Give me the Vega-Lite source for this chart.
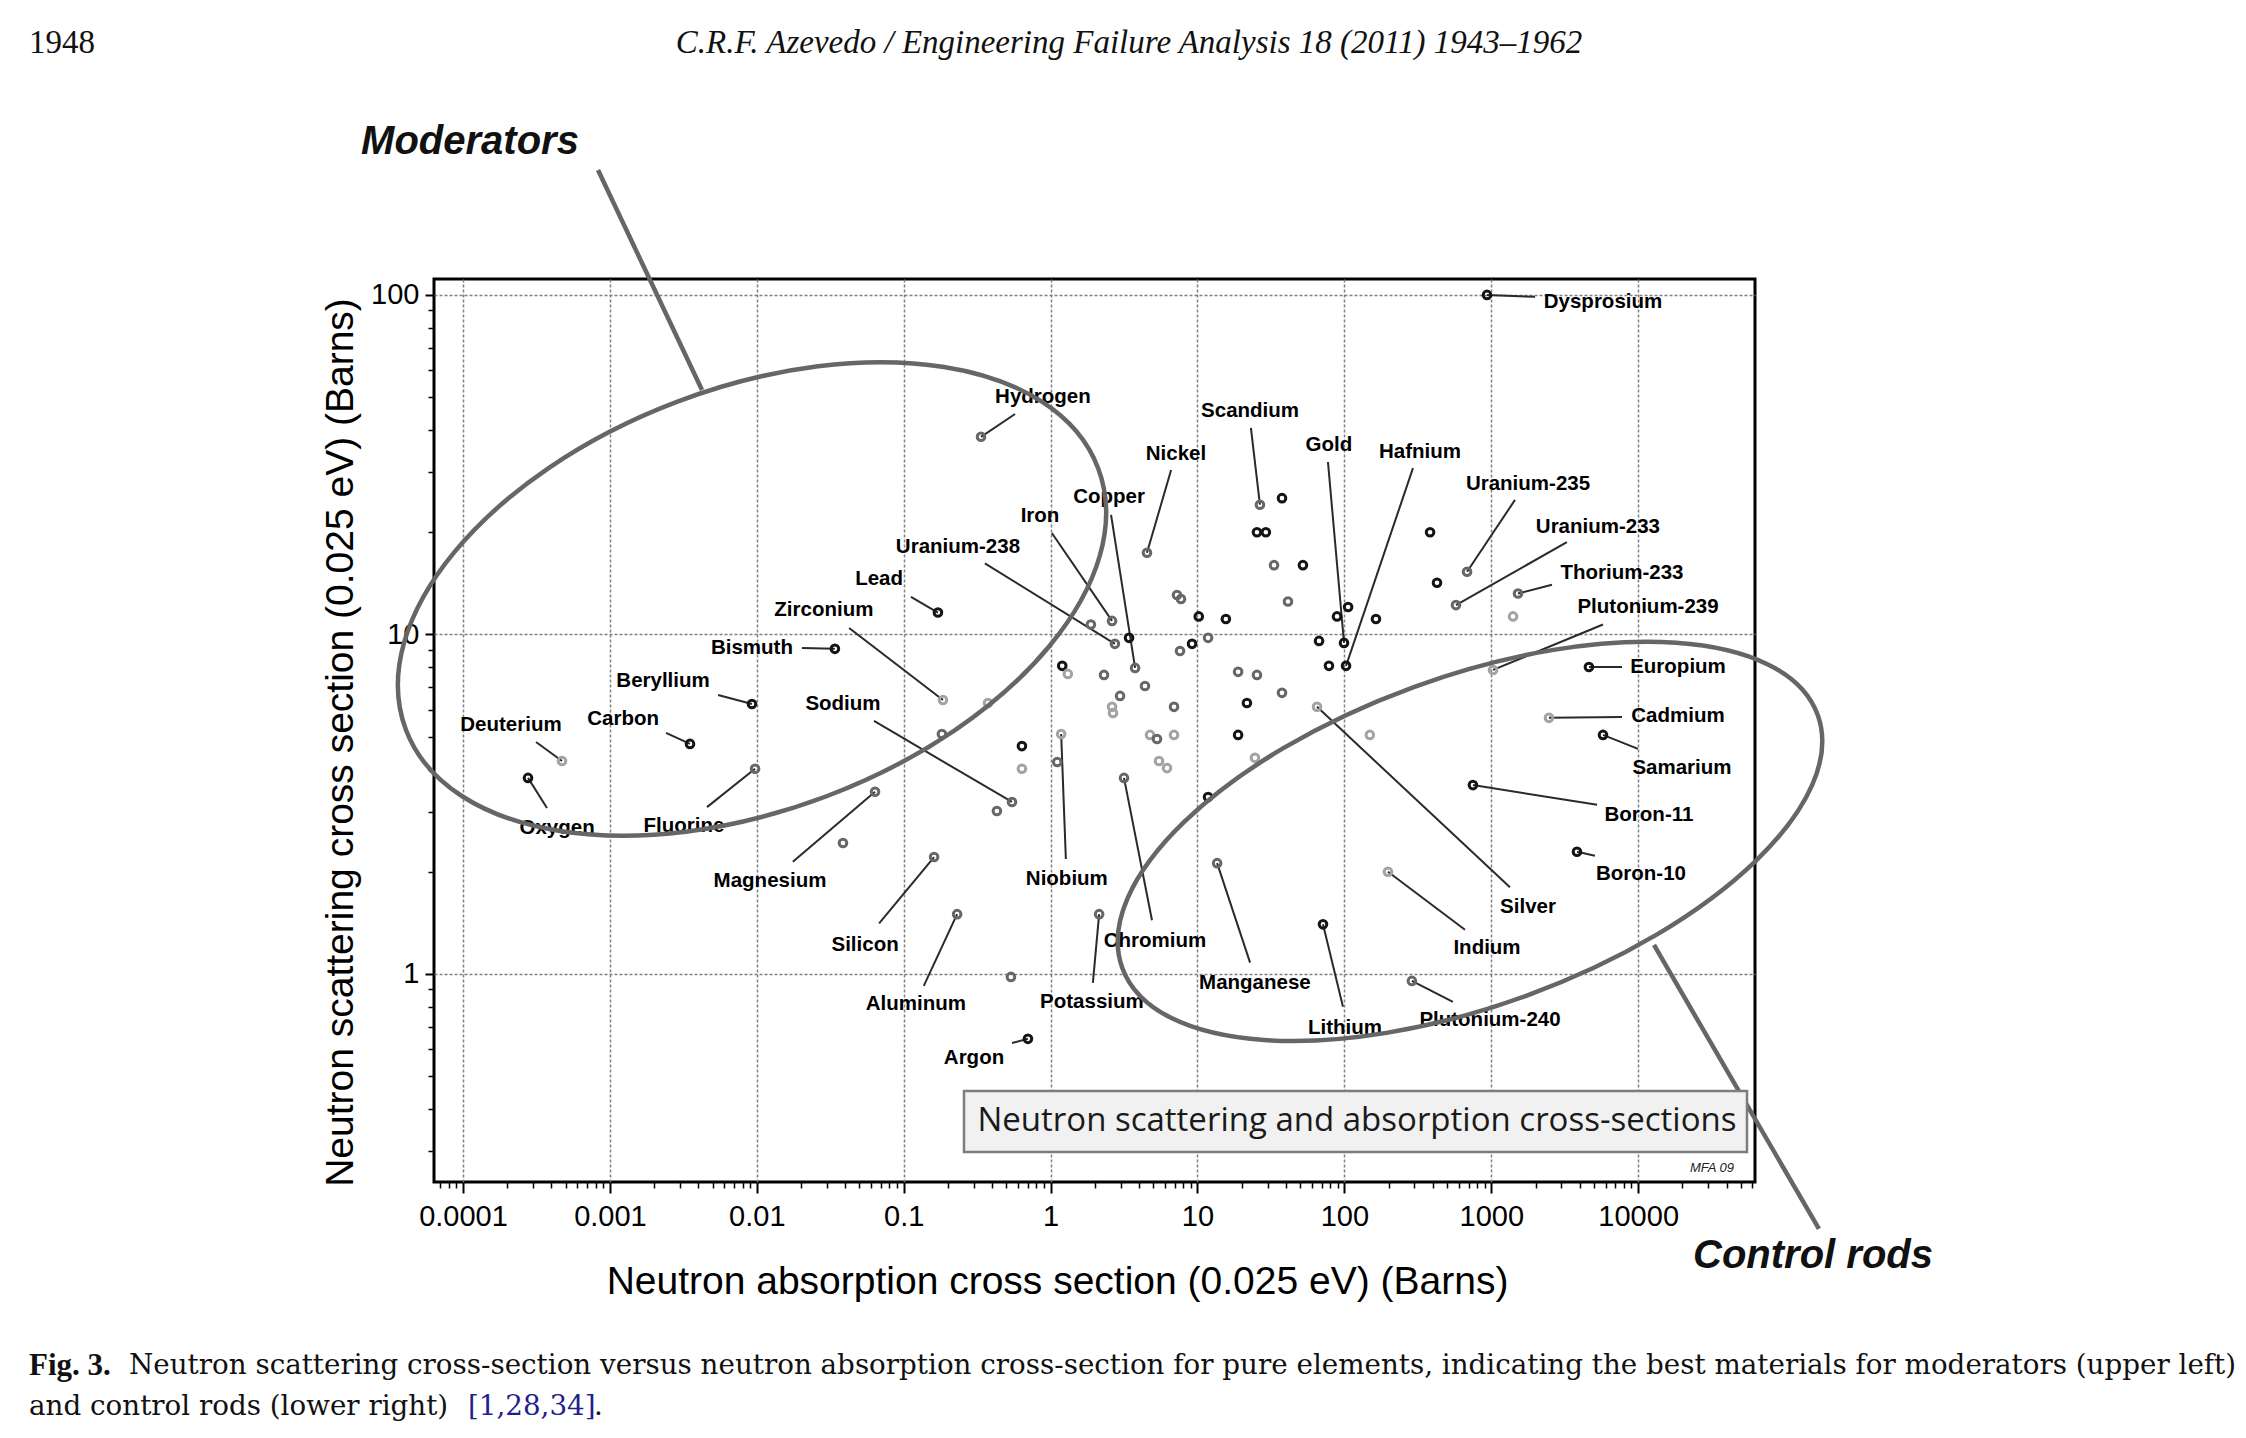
{
  "$schema": "https://vega.github.io/schema/vega-lite/v6.json",
  "width": 1321,
  "height": 903,
  "autosize": {"type": "none"},
  "padding": {"left": 434, "top": 279, "right": 491, "bottom": 256},
  "background": "white",
  "config": {"view": {"stroke": "black", "strokeWidth": 3}, "font": "Liberation Sans"},
  "resolve": {"axis": {"x": "independent", "y": "independent"}},
  "datasets": {
    "elements": [
      {"name":"Hydrogen","absorption":0.336,"scattering":38.2,"class":"mid","label_x":0.887,"label_y":50.1,"line_x":0.573,"line_y":44.6},
      {"name":"Scandium","absorption":26.6,"scattering":24.1,"class":"mid","label_x":22.8,"label_y":45.5,"line_x":23.1,"line_y":40.6},
      {"name":"Nickel","absorption":4.53,"scattering":17.4,"class":"mid","label_x":7.14,"label_y":34.0,"line_x":6.61,"line_y":30.5},
      {"name":"Copper","absorption":3.76,"scattering":7.97,"class":"mid","label_x":2.50,"label_y":25.4,"line_x":2.58,"line_y":22.5},
      {"name":"Iron","absorption":2.62,"scattering":10.96,"class":"mid","label_x":0.847,"label_y":22.3,"line_x":1.02,"line_y":19.9},
      {"name":"Uranium-238","absorption":2.74,"scattering":9.38,"class":"mid","label_x":0.234,"label_y":18.1,"line_x":0.357,"line_y":16.2},
      {"name":"Lead","absorption":0.171,"scattering":11.6,"class":"dark","label_x":0.068,"label_y":14.6,"line_x":0.112,"line_y":12.9},
      {"name":"Zirconium","absorption":0.185,"scattering":6.41,"class":"light","label_x":0.0286,"label_y":11.8,"line_x":0.0425,"line_y":10.45},
      {"name":"Bismuth","absorption":0.034,"scattering":9.07,"class":"dark","label_x":0.00927,"label_y":9.12,"line_x":0.0203,"line_y":9.12},
      {"name":"Beryllium","absorption":0.00927,"scattering":6.24,"class":"dark","label_x":0.0023,"label_y":7.30,"line_x":0.00545,"line_y":6.63},
      {"name":"Deuterium","absorption":0.000472,"scattering":4.24,"class":"light","label_x":0.000212,"label_y":5.41,"line_x":0.000314,"line_y":4.82},
      {"name":"Carbon","absorption":0.00351,"scattering":4.76,"class":"dark","label_x":0.00123,"label_y":5.64,"line_x":0.00241,"line_y":5.13},
      {"name":"Oxygen","absorption":0.000277,"scattering":3.78,"class":"dark","label_x":0.000437,"label_y":2.69,"line_x":0.000373,"line_y":3.08},
      {"name":"Fluorine","absorption":0.00973,"scattering":4.02,"class":"mid","label_x":0.00319,"label_y":2.73,"line_x":0.00458,"line_y":3.10},
      {"name":"Magnesium","absorption":0.0638,"scattering":3.44,"class":"mid","label_x":0.0123,"label_y":1.88,"line_x":0.0176,"line_y":2.14},
      {"name":"Sodium","absorption":0.546,"scattering":3.21,"class":"mid","label_x":0.0386,"label_y":6.24,"line_x":0.0628,"line_y":5.56},
      {"name":"Silicon","absorption":0.161,"scattering":2.21,"class":"mid","label_x":0.0546,"label_y":1.22,"line_x":0.068,"line_y":1.41},
      {"name":"Aluminum","absorption":0.231,"scattering":1.50,"class":"mid","label_x":0.121,"label_y":0.816,"line_x":0.137,"line_y":0.922},
      {"name":"Argon","absorption":0.701,"scattering":0.644,"class":"dark","label_x":0.301,"label_y":0.566,"line_x":0.546,"line_y":0.626},
      {"name":"Niobium","absorption":1.18,"scattering":5.09,"class":"light","label_x":1.29,"label_y":1.90,"line_x":1.27,"line_y":2.18},
      {"name":"Potassium","absorption":2.14,"scattering":1.50,"class":"mid","label_x":1.91,"label_y":0.827,"line_x":1.94,"line_y":0.941},
      {"name":"Chromium","absorption":3.16,"scattering":3.78,"class":"mid","label_x":5.14,"label_y":1.25,"line_x":4.90,"line_y":1.44},
      {"name":"Manganese","absorption":13.6,"scattering":2.12,"class":"mid","label_x":24.6,"label_y":0.941,"line_x":22.8,"line_y":1.08},
      {"name":"Lithium","absorption":71.5,"scattering":1.40,"class":"dark","label_x":101,"label_y":0.693,"line_x":97.8,"line_y":0.80},
      {"name":"Plutonium-240","absorption":288,"scattering":0.954,"class":"mid","label_x":980,"label_y":0.732,"line_x":548,"line_y":0.827},
      {"name":"Indium","absorption":198,"scattering":2.0,"class":"light","label_x":935,"label_y":1.19,"line_x":662,"line_y":1.35},
      {"name":"Silver","absorption":65.1,"scattering":6.12,"class":"light","label_x":1778,"label_y":1.58,"line_x":1340,"line_y":1.80},
      {"name":"Boron-10","absorption":3830,"scattering":2.29,"class":"dark","label_x":10450,"label_y":1.97,"line_x":5080,"line_y":2.23},
      {"name":"Boron-11","absorption":750,"scattering":3.60,"class":"dark","label_x":11840,"label_y":2.94,"line_x":5250,"line_y":3.15},
      {"name":"Samarium","absorption":5760,"scattering":5.06,"class":"dark","label_x":19860,"label_y":4.04,"line_x":9970,"line_y":4.60},
      {"name":"Cadmium","absorption":2470,"scattering":5.68,"class":"light","label_x":18660,"label_y":5.75,"line_x":7760,"line_y":5.71},
      {"name":"Europium","absorption":4620,"scattering":8.02,"class":"dark","label_x":18660,"label_y":8.02,"line_x":7760,"line_y":8.02},
      {"name":"Plutonium-239","absorption":1028,"scattering":7.86,"class":"light","label_x":11670,"label_y":12.05,"line_x":5760,"line_y":10.7},
      {"name":"Thorium-233","absorption":1520,"scattering":13.2,"class":"mid","label_x":7760,"label_y":15.2,"line_x":2590,"line_y":14.0},
      {"name":"Uranium-233","absorption":575,"scattering":12.2,"class":"mid","label_x":5320,"label_y":20.7,"line_x":3270,"line_y":18.7},
      {"name":"Uranium-235","absorption":684,"scattering":15.3,"class":"mid","label_x":1778,"label_y":27.8,"line_x":1450,"line_y":24.9},
      {"name":"Hafnium","absorption":102.6,"scattering":8.08,"class":"dark","label_x":327,"label_y":34.5,"line_x":293,"line_y":30.9},
      {"name":"Gold","absorption":99.4,"scattering":9.44,"class":"dark","label_x":78.5,"label_y":36.2,"line_x":77.3,"line_y":32.2},
      {"name":"Dysprosium","absorption":935,"scattering":100,"class":"dark","label_x":5760,"label_y":95.4,"line_x":1985,"line_y":98.7},
      {"name":"","absorption":37.6,"scattering":25.2,"class":"dark"},
      {"name":"","absorption":25.4,"scattering":20.0,"class":"dark"},
      {"name":"","absorption":29.2,"scattering":20.0,"class":"dark"},
      {"name":"","absorption":33.2,"scattering":16.0,"class":"mid"},
      {"name":"","absorption":52.2,"scattering":16.0,"class":"dark"},
      {"name":"","absorption":41.3,"scattering":12.5,"class":"mid"},
      {"name":"","absorption":106,"scattering":12.05,"class":"dark"},
      {"name":"","absorption":89.1,"scattering":11.3,"class":"dark"},
      {"name":"","absorption":67.2,"scattering":9.57,"class":"dark"},
      {"name":"","absorption":78.5,"scattering":8.08,"class":"dark"},
      {"name":"","absorption":164,"scattering":11.1,"class":"dark"},
      {"name":"","absorption":383,"scattering":20.0,"class":"dark"},
      {"name":"","absorption":427,"scattering":14.2,"class":"dark"},
      {"name":"","absorption":1406,"scattering":11.3,"class":"light"},
      {"name":"","absorption":1.88,"scattering":10.7,"class":"mid"},
      {"name":"","absorption":3.42,"scattering":9.77,"class":"dark"},
      {"name":"","absorption":1.20,"scattering":8.08,"class":"dark"},
      {"name":"","absorption":1.31,"scattering":7.65,"class":"light"},
      {"name":"","absorption":2.31,"scattering":7.60,"class":"mid"},
      {"name":"","absorption":4.39,"scattering":7.05,"class":"mid"},
      {"name":"","absorption":2.97,"scattering":6.59,"class":"mid"},
      {"name":"","absorption":2.62,"scattering":6.12,"class":"light"},
      {"name":"","absorption":2.66,"scattering":5.87,"class":"light"},
      {"name":"","absorption":6.92,"scattering":6.12,"class":"mid"},
      {"name":"","absorption":7.25,"scattering":13.07,"class":"mid"},
      {"name":"","absorption":7.72,"scattering":12.72,"class":"mid"},
      {"name":"","absorption":10.2,"scattering":11.3,"class":"dark"},
      {"name":"","absorption":15.6,"scattering":11.1,"class":"dark"},
      {"name":"","absorption":9.18,"scattering":9.38,"class":"dark"},
      {"name":"","absorption":11.8,"scattering":9.77,"class":"mid"},
      {"name":"","absorption":7.6,"scattering":8.94,"class":"mid"},
      {"name":"","absorption":18.9,"scattering":7.76,"class":"mid"},
      {"name":"","absorption":25.4,"scattering":7.60,"class":"mid"},
      {"name":"","absorption":37.6,"scattering":6.73,"class":"mid"},
      {"name":"","absorption":21.7,"scattering":6.28,"class":"dark"},
      {"name":"","absorption":0.375,"scattering":6.28,"class":"light"},
      {"name":"","absorption":0.182,"scattering":5.09,"class":"mid"},
      {"name":"","absorption":0.431,"scattering":3.02,"class":"mid"},
      {"name":"","absorption":0.638,"scattering":4.69,"class":"dark"},
      {"name":"","absorption":0.638,"scattering":4.02,"class":"light"},
      {"name":"","absorption":1.11,"scattering":4.21,"class":"mid"},
      {"name":"","absorption":4.75,"scattering":5.06,"class":"light"},
      {"name":"","absorption":5.30,"scattering":4.92,"class":"mid"},
      {"name":"","absorption":6.92,"scattering":5.06,"class":"light"},
      {"name":"","absorption":18.9,"scattering":5.06,"class":"dark"},
      {"name":"","absorption":5.47,"scattering":4.24,"class":"light"},
      {"name":"","absorption":6.20,"scattering":4.04,"class":"light"},
      {"name":"","absorption":24.6,"scattering":4.33,"class":"light"},
      {"name":"","absorption":11.8,"scattering":3.32,"class":"dark"},
      {"name":"","absorption":149,"scattering":5.06,"class":"light"},
      {"name":"","absorption":0.0386,"scattering":2.43,"class":"mid"},
      {"name":"","absorption":0.537,"scattering":0.98,"class":"mid"}
    ]
  },
  "layer": [
    {
      "data": {"name": "elements"},
      "transform": [{"filter": "isValid(datum.line_x)"}],
      "mark": {"type": "rule", "color": "#2a2a2a", "strokeWidth": 2},
      "encoding": {
        "x": {"field": "absorption", "type": "quantitative", "scale": {"type": "log", "domain": [0.00006346, 62400], "nice": false}, "axis": null},
        "y": {"field": "scattering", "type": "quantitative", "scale": {"type": "log", "domain": [0.2439, 111.4], "nice": false}, "axis": null},
        "x2": {"field": "line_x"},
        "y2": {"field": "line_y"}
      }
    },
    {
      "data": {"name": "elements"},
      "mark": {"type": "point", "filled": false, "size": 58, "strokeWidth": 3, "opacity": 1},
      "encoding": {
        "x": {
          "field": "absorption", "type": "quantitative",
          "scale": {"type": "log", "domain": [0.00006346, 62400], "nice": false},
          "axis": {
            "values": [0.0001, 0.001, 0.01, 0.1, 1, 10, 100, 1000, 10000],
            "format": "~g",
            "title": "Neutron absorption cross section (0.025 eV) (Barns)",
            "grid": true, "gridColor": "#808080", "gridDash": [3, 2], "gridWidth": 1.5,
            "domain": false,
            "tickColor": "black", "tickWidth": 2, "tickSize": 11,
            "labelFont": "Liberation Sans", "labelFontSize": 29, "labelColor": "black", "labelPadding": 9,
            "labelFlush": false, "labelOverlap": false, "labelBound": false,
            "titleFont": "Liberation Sans", "titleFontSize": 39, "titleFontWeight": "normal", "titleColor": "black",
            "titleX": 623, "titleY": 111, "titleAlign": "center", "titleBaseline": "alphabetic",
            "zindex": 0
          }
        },
        "y": {
          "field": "scattering", "type": "quantitative",
          "scale": {"type": "log", "domain": [0.2439, 111.4], "nice": false},
          "axis": {
            "values": [1, 10, 100],
            "format": "~g",
            "title": "Neutron scattering cross section (0.025 eV) (Barns)",
            "grid": true, "gridColor": "#808080", "gridDash": [3, 2], "gridWidth": 1.5,
            "domain": false,
            "tickColor": "black", "tickWidth": 2, "tickSize": 9,
            "labelFont": "Liberation Sans", "labelFontSize": 29, "labelColor": "black", "labelPadding": 6,
            "labelOverlap": false, "labelBound": false, "labelFlush": false,
            "titleFont": "Liberation Sans", "titleFontSize": 39, "titleFontWeight": "normal", "titleColor": "black",
            "titleAngle": 270, "titleX": -82, "titleY": 463, "titleAlign": "center", "titleBaseline": "alphabetic",
            "zindex": 0
          }
        },
        "color": {"field": "class", "type": "nominal", "scale": {"domain": ["dark", "mid", "light"], "range": ["#141414", "#676767", "#a3a3a3"]}, "legend": null}
      }
    },
    {
      "data": {"name": "elements"},
      "transform": [{"filter": "datum.name != ''"}],
      "mark": {"type": "text", "font": "Liberation Sans", "fontWeight": "bold", "fontSize": 20.5, "align": "center", "baseline": "middle", "color": "black"},
      "encoding": {
        "x": {"field": "label_x", "type": "quantitative", "scale": {"type": "log", "domain": [0.00006346, 62400], "nice": false}, "axis": null},
        "y": {"field": "label_y", "type": "quantitative", "scale": {"type": "log", "domain": [0.2439, 111.4], "nice": false}, "axis": null},
        "text": {"field": "name"}
      }
    },
    {
      "data": {"values": [{"region": "Moderators"}]},
      "mark": {"type": "point", "shape": "M 1 0 C 1 0.3148 0.5523 0.57 0 0.57 C -0.5523 0.57 -1 0.3148 -1 0 C -1 -0.3148 -0.5523 -0.57 0 -0.57 C 0.5523 -0.57 1 -0.3148 1 0 Z", "size": 547600, "angle": 339.3, "filled": false, "color": "#666666", "strokeWidth": 4.5, "opacity": 1},
      "encoding": {
        "x": {
          "datum": 0.009276, "type": "quantitative",
          "scale": {"type": "log", "domain": [0.00006346, 62400], "nice": false},
          "axis": {
            "orient": "bottom", "title": null, "labels": false, "grid": false, "domain": false,
            "tickColor": "black", "tickWidth": 1.5, "tickSize": 6, "zindex": 0,
            "values": [0.00007, 0.00008, 0.00009, 0.0002, 0.0003, 0.0004, 0.0005, 0.0006, 0.0007, 0.0008, 0.0009, 0.002, 0.003, 0.004, 0.005, 0.006, 0.007, 0.008, 0.009, 0.02, 0.03, 0.04, 0.05, 0.06, 0.07, 0.08, 0.09, 0.2, 0.3, 0.4, 0.5, 0.6, 0.7, 0.8, 0.9, 2, 3, 4, 5, 6, 7, 8, 9, 20, 30, 40, 50, 60, 70, 80, 90, 200, 300, 400, 500, 600, 700, 800, 900, 2000, 3000, 4000, 5000, 6000, 7000, 8000, 9000, 20000, 30000, 40000, 50000, 60000]
          }
        },
        "y": {
          "datum": 12.72, "type": "quantitative",
          "scale": {"type": "log", "domain": [0.2439, 111.4], "nice": false},
          "axis": {
            "orient": "left", "title": null, "labels": false, "grid": false, "domain": false,
            "tickColor": "black", "tickWidth": 1.5, "tickSize": 6, "zindex": 0,
            "values": [0.3, 0.4, 0.5, 0.6, 0.7, 0.8, 0.9, 2, 3, 4, 5, 6, 7, 8, 9, 20, 30, 40, 50, 60, 70, 80, 90]
          }
        }
      }
    },
    {
      "data": {"values": [{"region": "Control rods"}]},
      "mark": {"type": "point", "shape": "M 1 0 C 1 0.2453 0.5523 0.444 0 0.444 C -0.5523 0.444 -1 0.2453 -1 0 C -1 -0.2453 -0.5523 -0.444 0 -0.444 C 0.5523 -0.444 1 -0.2453 1 0 Z", "size": 547600, "angle": 340, "filled": false, "color": "#666666", "strokeWidth": 4.5, "opacity": 1},
      "encoding": {
        "x": {"datum": 716.1, "type": "quantitative", "scale": {"type": "log", "domain": [0.00006346, 62400], "nice": false}, "axis": null},
        "y": {"datum": 2.457, "type": "quantitative", "scale": {"type": "log", "domain": [0.2439, 111.4], "nice": false}, "axis": null}
      }
    },
    {
      "data": {"values": [{"region": "Moderators"}]},
      "mark": {"type": "rule", "color": "#666666", "strokeWidth": 4.5},
      "encoding": {
        "x": {"datum": 0.00083, "type": "quantitative", "scale": {"type": "log", "domain": [0.00006346, 62400], "nice": false}, "axis": null},
        "y": {"datum": 233.4, "type": "quantitative", "scale": {"type": "log", "domain": [0.2439, 111.4], "nice": false}, "axis": null},
        "x2": {"datum": 0.004236},
        "y2": {"datum": 52.5}
      }
    },
    {
      "data": {"values": [{"region": "Control rods"}]},
      "mark": {"type": "rule", "color": "#666666", "strokeWidth": 4.5},
      "encoding": {
        "x": {"datum": 12810, "type": "quantitative", "scale": {"type": "log", "domain": [0.00006346, 62400], "nice": false}, "axis": null},
        "y": {"datum": 1.217, "type": "quantitative", "scale": {"type": "log", "domain": [0.2439, 111.4], "nice": false}, "axis": null},
        "x2": {"datum": 170100},
        "y2": {"datum": 0.1774}
      }
    },
    {
      "data": {"values": [{"label": "Moderators"}]},
      "mark": {"type": "text", "font": "Liberation Sans", "fontWeight": "bold", "fontStyle": "italic", "fontSize": 40, "align": "center", "baseline": "middle", "color": "#111111"},
      "encoding": {
        "x": {"datum": 0.0001116, "type": "quantitative", "scale": {"type": "log", "domain": [0.00006346, 62400], "nice": false}, "axis": null},
        "y": {"datum": 282.3, "type": "quantitative", "scale": {"type": "log", "domain": [0.2439, 111.4], "nice": false}, "axis": null},
        "text": {"field": "label"}
      }
    },
    {
      "data": {"values": [{"label": "Control rods"}]},
      "mark": {"type": "text", "font": "Liberation Sans", "fontWeight": "bold", "fontStyle": "italic", "fontSize": 40, "align": "center", "baseline": "middle", "color": "#111111"},
      "encoding": {
        "x": {"datum": 154900, "type": "quantitative", "scale": {"type": "log", "domain": [0.00006346, 62400], "nice": false}, "axis": null},
        "y": {"datum": 0.1477, "type": "quantitative", "scale": {"type": "log", "domain": [0.2439, 111.4], "nice": false}, "axis": null},
        "text": {"field": "label"}
      }
    },
    {
      "data": {"values": [{"label": "Neutron scattering and absorption cross-sections"}]},
      "mark": {"type": "rect", "fill": "#f1f1f1", "stroke": "#7d7d7d", "strokeWidth": 2.5},
      "encoding": {
        "x": {"datum": 0.2573, "type": "quantitative", "scale": {"type": "log", "domain": [0.00006346, 62400], "nice": false}, "axis": null},
        "x2": {"datum": 55050},
        "y": {"datum": 0.452, "type": "quantitative", "scale": {"type": "log", "domain": [0.2439, 111.4], "nice": false}, "axis": null},
        "y2": {"datum": 0.299}
      }
    },
    {
      "data": {"values": [{"label": "Neutron scattering and absorption cross-sections"}]},
      "mark": {"type": "text", "font": "Open Sans", "fontSize": 33, "align": "center", "baseline": "middle", "color": "#1a1a1a"},
      "encoding": {
        "x": {"datum": 121.8, "type": "quantitative", "scale": {"type": "log", "domain": [0.00006346, 62400], "nice": false}, "axis": null},
        "y": {"datum": 0.369, "type": "quantitative", "scale": {"type": "log", "domain": [0.2439, 111.4], "nice": false}, "axis": null},
        "text": {"field": "label"}
      }
    },
    {
      "data": {"values": [{"label": "MFA 09"}]},
      "mark": {"type": "text", "font": "Liberation Sans Narrow, Liberation Sans", "fontStyle": "italic", "fontSize": 13, "align": "center", "baseline": "middle", "color": "#222222"},
      "encoding": {
        "x": {"datum": 31800, "type": "quantitative", "scale": {"type": "log", "domain": [0.00006346, 62400], "nice": false}, "axis": null},
        "y": {"datum": 0.2683, "type": "quantitative", "scale": {"type": "log", "domain": [0.2439, 111.4], "nice": false}, "axis": null},
        "text": {"field": "label"}
      }
    },
    {
      "data": {"values": [{"label": "1948"}]},
      "mark": {"type": "text", "font": "Liberation Serif", "fontSize": 33, "align": "left", "baseline": "middle", "color": "#111111"},
      "encoding": {
        "x": {"datum": 1.111e-7, "type": "quantitative", "scale": {"type": "log", "domain": [0.00006346, 62400], "nice": false}, "axis": null},
        "y": {"datum": 552.5, "type": "quantitative", "scale": {"type": "log", "domain": [0.2439, 111.4], "nice": false}, "axis": null},
        "text": {"field": "label"}
      }
    },
    {
      "data": {"values": [{"label": "C.R.F. Azevedo / Engineering Failure Analysis 18 (2011) 1943–1962"}]},
      "mark": {"type": "text", "font": "Liberation Serif", "fontStyle": "italic", "fontSize": 33, "align": "center", "baseline": "middle", "color": "#111111"},
      "encoding": {
        "x": {"datum": 3.42, "type": "quantitative", "scale": {"type": "log", "domain": [0.00006346, 62400], "nice": false}, "axis": null},
        "y": {"datum": 552.5, "type": "quantitative", "scale": {"type": "log", "domain": [0.2439, 111.4], "nice": false}, "axis": null},
        "text": {"field": "label"}
      }
    },
    {
      "data": {"values": [{"label": "Fig. 3."}]},
      "mark": {"type": "text", "font": "Liberation Serif", "fontWeight": "bold", "fontSize": 31, "align": "left", "baseline": "middle", "color": "#111111"},
      "encoding": {
        "x": {"datum": 1.111e-7, "type": "quantitative", "scale": {"type": "log", "domain": [0.00006346, 62400], "nice": false}, "axis": null},
        "y": {"datum": 0.07004, "type": "quantitative", "scale": {"type": "log", "domain": [0.2439, 111.4], "nice": false}, "axis": null},
        "text": {"field": "label"}
      }
    },
    {
      "data": {"values": [{"label": "Neutron scattering cross-section versus neutron absorption cross-section for pure elements, indicating the best materials for moderators (upper left)"}]},
      "mark": {"type": "text", "font": "DejaVu Serif", "fontSize": 27.75, "align": "left", "baseline": "middle", "color": "#111111"},
      "encoding": {
        "x": {"datum": 5.324e-7, "type": "quantitative", "scale": {"type": "log", "domain": [0.00006346, 62400], "nice": false}, "axis": null},
        "y": {"datum": 0.07004, "type": "quantitative", "scale": {"type": "log", "domain": [0.2439, 111.4], "nice": false}, "axis": null},
        "text": {"field": "label"}
      }
    },
    {
      "data": {"values": [{"label": "and control rods (lower right)"}]},
      "mark": {"type": "text", "font": "DejaVu Serif", "fontSize": 27.75, "align": "left", "baseline": "middle", "color": "#111111"},
      "encoding": {
        "x": {"datum": 1.111e-7, "type": "quantitative", "scale": {"type": "log", "domain": [0.00006346, 62400], "nice": false}, "axis": null},
        "y": {"datum": 0.05304, "type": "quantitative", "scale": {"type": "log", "domain": [0.2439, 111.4], "nice": false}, "axis": null},
        "text": {"field": "label"}
      }
    },
    {
      "data": {"values": [{"label": "[1,28,34]"}]},
      "mark": {"type": "text", "font": "DejaVu Serif", "fontSize": 27.75, "align": "left", "baseline": "middle", "color": "#1f1f8f"},
      "encoding": {
        "x": {"datum": 0.0001081, "type": "quantitative", "scale": {"type": "log", "domain": [0.00006346, 62400], "nice": false}, "axis": null},
        "y": {"datum": 0.05304, "type": "quantitative", "scale": {"type": "log", "domain": [0.2439, 111.4], "nice": false}, "axis": null},
        "text": {"field": "label"}
      }
    },
    {
      "data": {"values": [{"label": "."}]},
      "mark": {"type": "text", "font": "DejaVu Serif", "fontSize": 27.75, "align": "left", "baseline": "middle", "color": "#111111"},
      "encoding": {
        "x": {"datum": 0.00078, "type": "quantitative", "scale": {"type": "log", "domain": [0.00006346, 62400], "nice": false}, "axis": null},
        "y": {"datum": 0.05304, "type": "quantitative", "scale": {"type": "log", "domain": [0.2439, 111.4], "nice": false}, "axis": null},
        "text": {"field": "label"}
      }
    }
  ]
}
